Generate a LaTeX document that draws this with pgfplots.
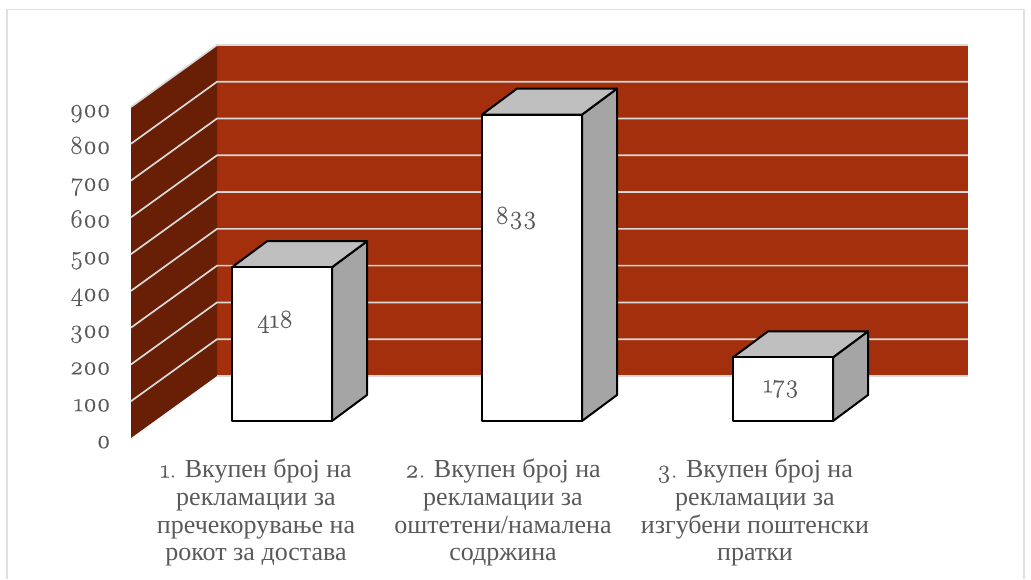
\documentclass[border=0pt]{standalone}
\usepackage{fontspec}
\usepackage{pgfplots}
\usepackage{pgfplotstable}
\pgfplotsset{compat=1.18}
\setmainfont{Liberation Serif}
\newfontfamily\osf[Numbers=OldStyle,FakeBold=0.4]{Latin Modern Roman}
\definecolor{wallback}{HTML}{A32F0C}
\definecolor{wallside}{HTML}{681F06}
\definecolor{gridc}{HTML}{D9D9D9}
\definecolor{txt}{HTML}{595959}
\definecolor{topface}{HTML}{BFBFBF}
\definecolor{sideface}{HTML}{A5A5A5}
\definecolor{frame}{HTML}{E0E0E0}

% bar centres and values
\pgfplotstableread{
x v
282 418
532 833
783 173
}\bars

\pgfplotsset{canvas/.style={
    scale only axis, width=1031pt, height=579pt,
    at={(0pt,0pt)}, anchor=south west,
    xmin=0, xmax=1031,
}}

\begin{document}
\begin{tikzpicture}
% walls, ticks and category labels; value 0 sits on the front corner of the floor
\begin{axis}[
    canvas,
    ymin=-383.4, ymax=1190.9,
    axis line style={draw=none},
    major tick style={draw=none},
    unbounded coords=jump,
    ytick={0,100,...,900},
    xtick={256,503,755},
    xticklabels={
        {{\osf 1.} Вкупен број на\\рекламации за\\пречекорување на\\рокот за достава},
        {{\osf 2.} Вкупен број на\\рекламации за\\оштетени/намалена\\содржина},
        {{\osf 3.} Вкупен број на\\рекламации за\\изгубени поштенски\\пратки}},
    /pgf/number format/assume math mode=true,
    yticklabel style={font=\osf\fontsize{26}{28}\selectfont, text=txt, anchor=base east, xshift=114pt, yshift=-10pt},
    xticklabel style={font=\fontsize{26}{27.7}\selectfont, text=txt, align=center, anchor=north, yshift=123.5pt},
]
\addplot[draw=frame, line width=1.5pt] coordinates {(7,-383.4)(7,1165)(1024,1165)(1024,-383.4)};
\addplot[fill=wallback, draw=none] coordinates {(217,168.6)(968,168.6)(968,1068.6)(217,1068.6)} -- cycle;
\addplot[fill=wallside, draw=none] coordinates {(131,0)(217,168.6)(217,1068.6)(131,900)} -- cycle;
\addplot[draw=gridc, line width=1.7pt] coordinates {
    (131,900)(217,1068.6)(968,1068.6)(968,nan)
    (131,800)(217,968.6)(968,968.6)(968,nan)
    (131,700)(217,868.6)(968,868.6)(968,nan)
    (131,600)(217,768.6)(968,768.6)(968,nan)
    (131,500)(217,668.6)(968,668.6)(968,nan)
    (131,400)(217,568.6)(968,568.6)(968,nan)
    (131,300)(217,468.6)(968,468.6)(968,nan)
    (131,200)(217,368.6)(968,368.6)(968,nan)
    (131,100)(217,268.6)(968,268.6)(968,nan)
    (217,168.6)(968,168.6)
};
\end{axis}
% bars; value 0 sits on the bars' base line
\begin{axis}[
    canvas,
    ymin=-429.6, ymax=1144.6,
    hide axis,
    every axis plot/.append style={line join=round},
]
\addplot[fill=sideface, draw=black, line width=2pt] coordinates {(332,0)(367,70.7)(367,488.7)(332,418)} -- cycle;
\addplot[fill=topface, draw=black, line width=2pt] coordinates {(232,418)(267,488.7)(367,488.7)(332,418)} -- cycle;
\addplot[fill=sideface, draw=black, line width=2pt] coordinates {(582,0)(617,70.7)(617,903.7)(582,833)} -- cycle;
\addplot[fill=topface, draw=black, line width=2pt] coordinates {(482,833)(517,903.7)(617,903.7)(582,833)} -- cycle;
\addplot[fill=sideface, draw=black, line width=2pt] coordinates {(833,0)(868,70.7)(868,243.7)(833,173)} -- cycle;
\addplot[fill=topface, draw=black, line width=2pt] coordinates {(733,173)(768,243.7)(868,243.7)(833,173)} -- cycle;
\addplot[ybar, bar shift=0pt, bar width=100pt, fill=white, draw=black, line width=2pt] table[x=x, y=v] {\bars};
\node[font=\osf\fontsize{26}{28}\selectfont, text=txt] at (axis cs:275,270) {418};
\node[font=\osf\fontsize{26}{28}\selectfont, text=txt] at (axis cs:516,552) {833};
\node[font=\osf\fontsize{26}{28}\selectfont, text=txt] at (axis cs:781,87) {173};
\end{axis}
\end{tikzpicture}
\end{document}
